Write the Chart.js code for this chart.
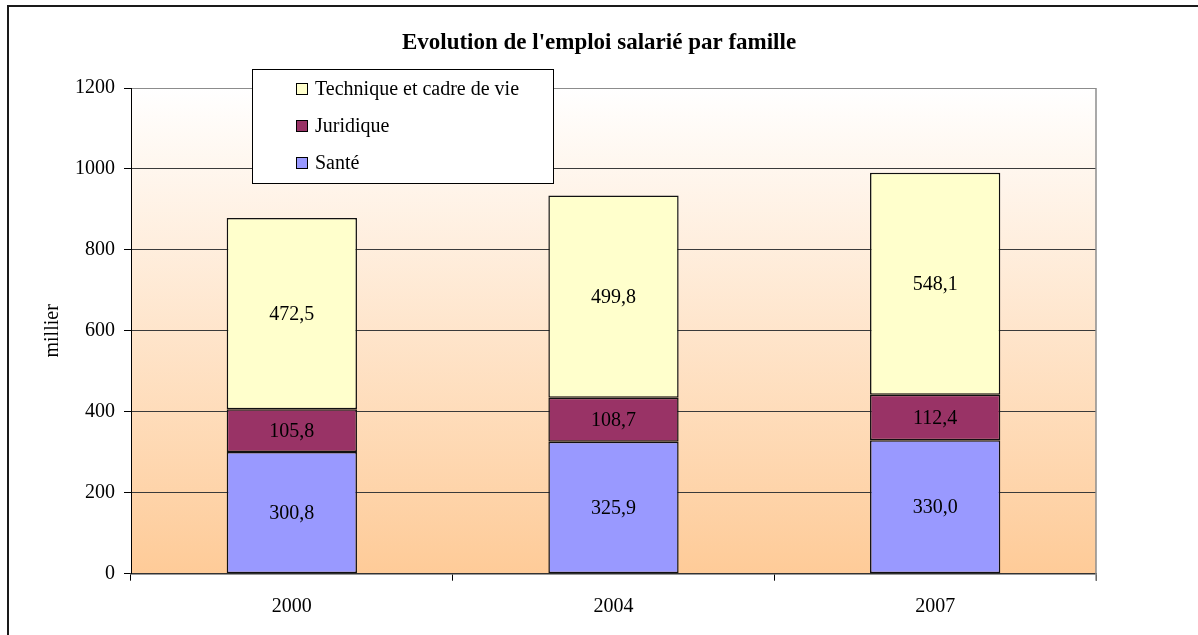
<!DOCTYPE html>
<html>
<head>
<meta charset="utf-8">
<script src="https://cdn.jsdelivr.net/npm/chart.js@4/dist/chart.umd.min.js"></script>
<style>
   html, body { margin: 0; padding: 0; background: #ffffff; }
   #box { width: 1198px; height: 635px; }
</style>
</head>
<body>
<div id="box"><canvas id="emploiChart" width="1198" height="635"></canvas></div>
<script>
const years = ["2000", "2004", "2007"];
const sante = [300.8, 325.9, 330.0];
const juridique = [105.8, 108.7, 112.4];
const technique = [472.5, 499.8, 548.1];
const yTicks = [0, 200, 400, 600, 800, 1000, 1200];

const serif = "'Liberation Serif', 'Times New Roman', serif";

function fmt(v) {
   return v.toFixed(1).replace(".", ",");
}

// fond dégradé + cadre extérieur
const backgroundPlugin = {
   id: "background",
   beforeDraw(chart) {
      const ctx = chart.ctx;
      const a = chart.chartArea;
      ctx.save();
      const grad = ctx.createLinearGradient(0, a.top, 0, a.bottom);
      grad.addColorStop(0, "#ffffff");
      grad.addColorStop(1, "#fecb98");
      ctx.fillStyle = grad;
      ctx.fillRect(a.left, a.top, a.right - a.left, a.bottom - a.top);
      ctx.strokeStyle = "#1a1a1a";
      ctx.lineWidth = 2;
      ctx.beginPath();
      ctx.moveTo(8, 635);
      ctx.lineTo(8, 6);
      ctx.lineTo(1198, 6);
      ctx.stroke();
      ctx.restore();
   },
   afterDatasetsDraw(chart) {
      const ctx = chart.ctx;
      const a = chart.chartArea;
      ctx.save();
      ctx.strokeStyle = "#8c8c8c";
      ctx.lineWidth = 1.5;
      ctx.beginPath();
      ctx.moveTo(a.right, a.top);
      ctx.lineTo(a.right, a.bottom + 7);
      ctx.stroke();
      ctx.restore();
   }
};

// valeurs dans les barres
const labelPlugin = {
   id: "valueLabels",
   afterDatasetsDraw(chart) {
      const ctx = chart.ctx;
      ctx.save();
      ctx.font = "20px " + serif;
      ctx.fillStyle = "#000000";
      ctx.textAlign = "center";
      ctx.textBaseline = "middle";
      chart.data.datasets.forEach((ds, i) => {
         chart.getDatasetMeta(i).data.forEach((bar, j) => {
            const mid = (bar.y + bar.base) / 2;
            ctx.fillText(fmt(ds.data[j]), bar.x, mid + 1);
         });
      });
      ctx.restore();
   }
};

// légende encadrée dans la zone du graphique
const legendPlugin = {
   id: "boxLegend",
   afterDraw(chart) {
      const ctx = chart.ctx;
      const x = 252, y = 69, w = 301, h = 114;
      ctx.save();
      ctx.fillStyle = "#ffffff";
      ctx.fillRect(x, y, w, h);
      ctx.strokeStyle = "#000000";
      ctx.lineWidth = 1;
      ctx.strokeRect(x + 0.5, y + 0.5, w, h);
      ctx.font = "20px " + serif;
      ctx.textBaseline = "middle";
      ctx.textAlign = "left";
      const items = chart.data.datasets.slice().reverse();
      items.forEach((ds, i) => {
         const cy = 89 + i * 37;
         ctx.fillStyle = ds.backgroundColor;
         ctx.fillRect(296, cy - 6, 12, 12);
         ctx.strokeStyle = "#000000";
         ctx.strokeRect(296.5, cy - 5.5, 11, 11);
         ctx.fillStyle = "#000000";
         ctx.fillText(ds.label, 315, cy + 1);
      });
      ctx.restore();
   }
};

const ctx = document.getElementById("emploiChart").getContext("2d");
new Chart(ctx, {
   type: "bar",
   data: {
      labels: years,
      datasets: [
         { label: "Santé", data: sante, backgroundColor: "#9999ff" },
         { label: "Juridique", data: juridique, backgroundColor: "#993366" },
         { label: "Technique et cadre de vie", data: technique, backgroundColor: "#ffffcc" }
      ]
   },
   options: {
      responsive: false,
      animation: false,
      layout: { padding: 0 },
      datasets: {
         bar: {
            borderColor: "#111111",
            borderWidth: 1.5,
            borderSkipped: false,
            barPercentage: 1,
            categoryPercentage: 0.405
         }
      },
      plugins: {
         legend: { display: false },
         tooltip: { enabled: false },
         title: {
            display: true,
            text: "Evolution de l'emploi salarié par famille",
            color: "#000000",
            font: { family: serif, size: 23, weight: "bold" },
            padding: { top: 29.2, bottom: 31.2 }
         }
      },
      scales: {
         x: {
            stacked: true,
            grid: {
               offset: true,
               drawOnChartArea: false,
               drawTicks: true,
               tickLength: 7,
               tickColor: "#000000"
            },
            border: { color: "#333333", width: 1.5 },
            ticks: {
               color: "#000000",
               font: { family: serif, size: 20 },
               padding: 14
            },
            afterFit(scale) { scale.height = 61.3; }
         },
         y: {
            stacked: true,
            min: 0,
            max: 1200,
            afterBuildTicks(scale) { scale.ticks = yTicks.map(v => ({ value: v })); },
            grid: {
               color: c => (c.tick && c.tick.value === 1200) ? "#8c8c8c" : "#3a3a3a",
               tickColor: "#000000",
               tickLength: 7
            },
            border: { color: "#000000", width: 1 },
            ticks: {
               color: "#000000",
               font: { family: serif, size: 20 },
               padding: 9,
               callback: v => v
            },
            title: {
               display: true,
               text: "millier",
               color: "#000000",
               font: { family: serif, size: 20 },
               padding: { top: 41, bottom: 0 }
            },
            afterFit(scale) { scale.width = 131; }
         },
         // axe vide à droite pour réserver la marge
         yRight: {
            position: "right",
            display: true,
            grid: { display: false },
            border: { display: false },
            ticks: { display: false },
            afterFit(scale) { scale.width = 102; }
         }
      }
   },
   plugins: [backgroundPlugin, labelPlugin, legendPlugin]
});
</script>
</body>
</html>
